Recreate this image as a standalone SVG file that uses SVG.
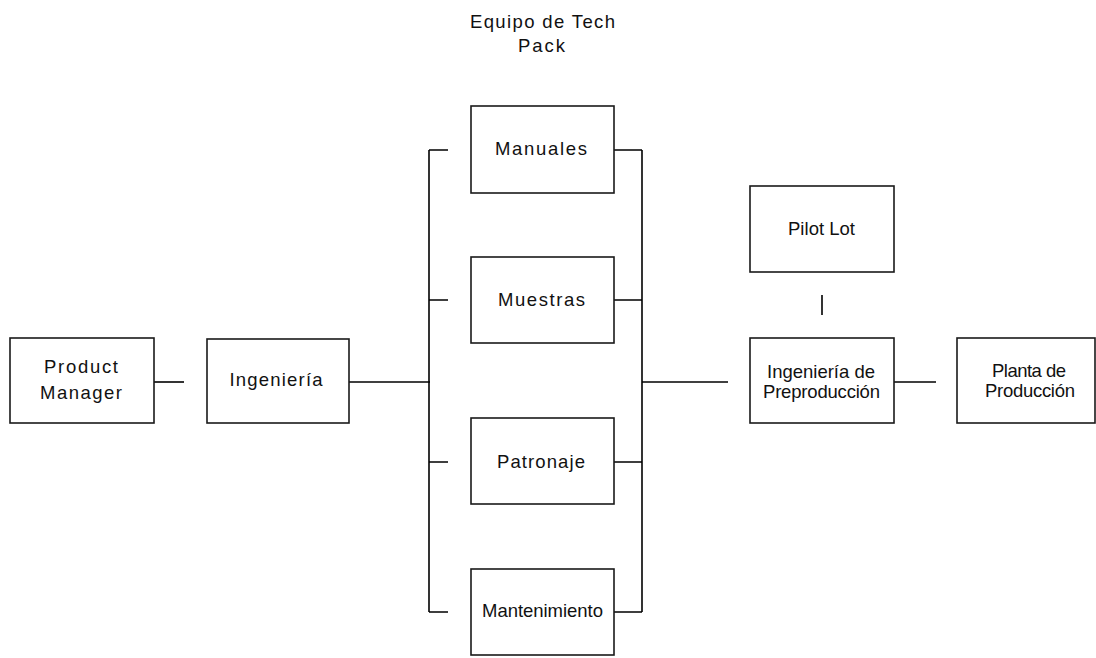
<svg xmlns="http://www.w3.org/2000/svg" width="1096" height="658" viewBox="0 0 1096 658">
  <style>
    .box { fill: #ffffff; stroke: #1a1a1a; stroke-width: 1.6; }
    .lbl { font-family: "Liberation Sans", Arial, sans-serif; font-size: 18.5px; fill: #111; text-anchor: middle; }
    .wire { fill: none; stroke: #000; stroke-width: 1.6; }
  </style>
  <rect width="1096" height="658" fill="#ffffff"/>

  <!-- group heading above the tech pack column -->
  <text class="lbl" x="542.5" y="28" textLength="145">Equipo de Tech</text>
  <text class="lbl" x="541.5" y="52" textLength="47">Pack</text>

  <g id="connectors">
    <path class="wire" d="M154 382 H184"/>
    <path class="wire" d="M349 382 H430"/>
    <path class="wire" d="M429 150 V612"/>
    <path class="wire" d="M429 150 H448 M429 300 H448 M429 462 H448 M429 612 H448"/>
    <path class="wire" d="M614 150 H642 M614 300 H642 M614 462 H642 M614 612 H642"/>
    <path class="wire" d="M642 150 V612"/>
    <path class="wire" d="M642 382 H728"/>
    <path class="wire" d="M822 295 V315"/>
    <path class="wire" d="M894 382 H936"/>
  </g>

  <g id="product-manager">
    <rect class="box" x="10" y="338" width="144" height="85"/>
    <text class="lbl" x="81" y="373" textLength="74">Product</text>
    <text class="lbl" x="81" y="399" textLength="82">Manager</text>
  </g>
  <g id="ingenieria">
    <rect class="box" x="207" y="339" width="142" height="84"/>
    <text class="lbl" x="276" y="386" textLength="93">Ingeniería</text>
  </g>
  <g id="manuales">
    <rect class="box" x="471" y="106" width="143" height="87"/>
    <text class="lbl" x="541" y="155" textLength="92">Manuales</text>
  </g>
  <g id="muestras">
    <rect class="box" x="471" y="257" width="143" height="86"/>
    <text class="lbl" x="541.5" y="306" textLength="87">Muestras</text>
  </g>
  <g id="patronaje">
    <rect class="box" x="471" y="418" width="143" height="86"/>
    <text class="lbl" x="541" y="468" textLength="88">Patronaje</text>
  </g>
  <g id="mantenimiento">
    <rect class="box" x="471" y="569" width="143" height="86"/>
    <text class="lbl" x="542.5" y="617" textLength="121">Mantenimiento</text>
  </g>
  <g id="pilot-lot">
    <rect class="box" x="750" y="186" width="144" height="86"/>
    <text class="lbl" x="821.5" y="235" textLength="67">Pilot Lot</text>
  </g>
  <g id="ingenieria-preproduccion">
    <rect class="box" x="750" y="338" width="144" height="85"/>
    <text class="lbl" x="821" y="378" textLength="108">Ingeniería de</text>
    <text class="lbl" x="821.5" y="398" textLength="117">Preproducción</text>
  </g>
  <g id="planta-produccion">
    <rect class="box" x="957" y="338" width="138" height="85"/>
    <text class="lbl" x="1029" y="377" textLength="74">Planta de</text>
    <text class="lbl" x="1030" y="397" textLength="90">Producción</text>
  </g>
</svg>
